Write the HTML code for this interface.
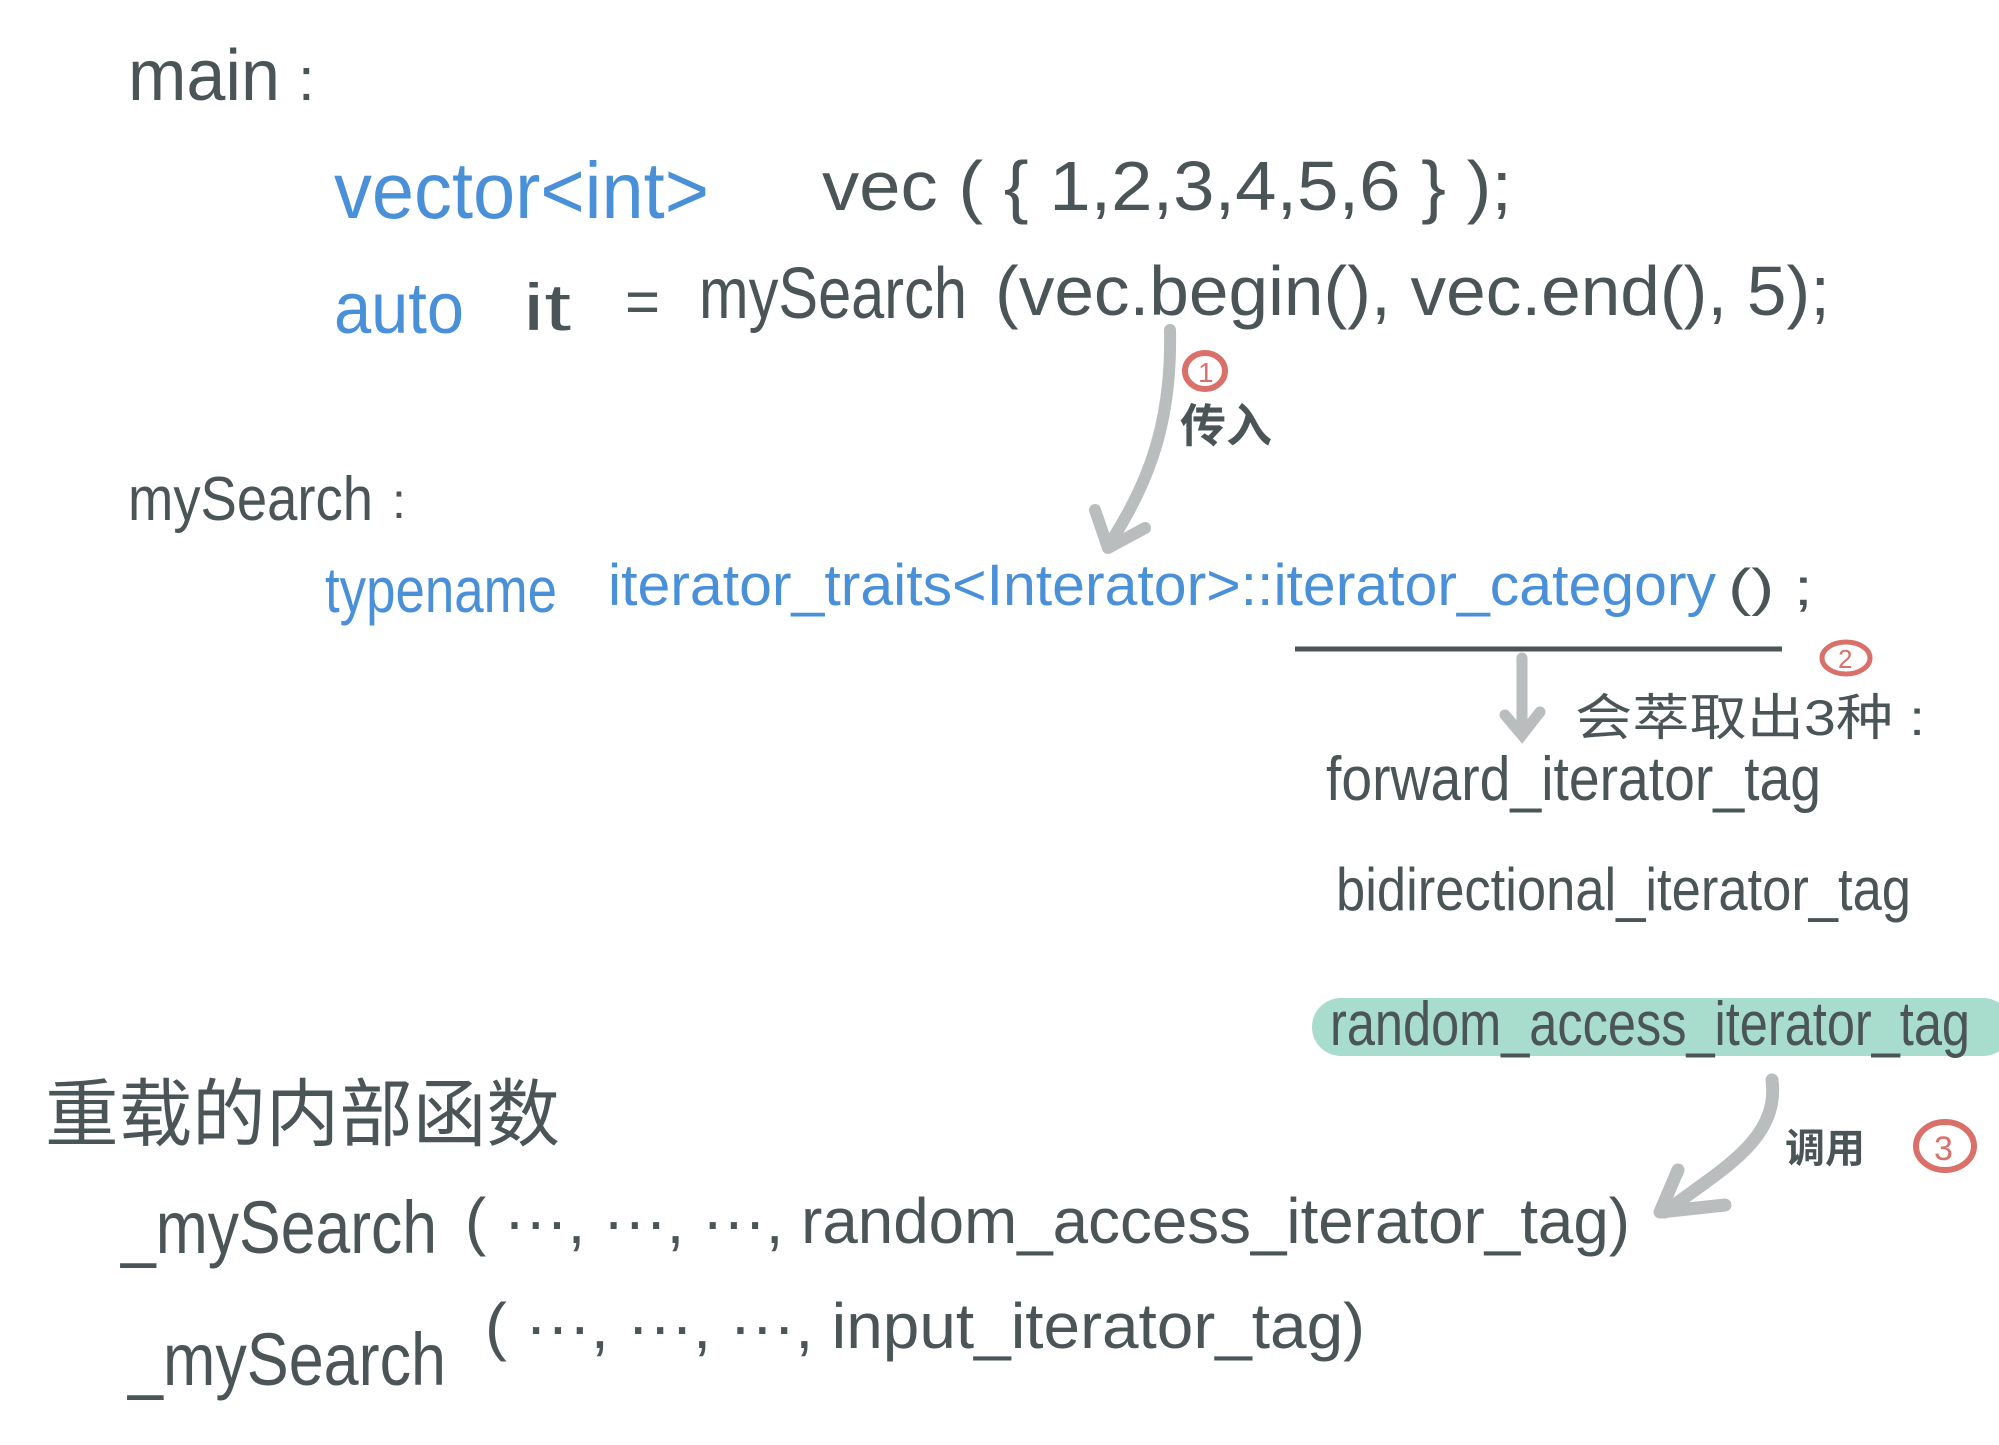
<!DOCTYPE html>
<html><head><meta charset="utf-8"><style>
html,body{margin:0;padding:0;background:#fff;width:1999px;height:1445px;overflow:hidden}
svg{display:block}
text{font-family:"Liberation Sans","Noto Sans CJK SC",sans-serif}
.d{fill:#4b5557}
.b{fill:#4a90d9}
</style></head><body>
<svg width="1999" height="1445" viewBox="0 0 1999 1445" xmlns="http://www.w3.org/2000/svg">
<text class="d" x="128" y="100" font-size="72" textLength="152" lengthAdjust="spacingAndGlyphs">main</text>
<text class="d" x="298" y="100" font-size="60">:</text>
<text class="b" x="334" y="218" font-size="80" textLength="375" lengthAdjust="spacingAndGlyphs">vector&lt;int&gt;</text>
<text class="d" x="822" y="210" font-size="70" textLength="690" lengthAdjust="spacingAndGlyphs">vec ( { 1,2,3,4,5,6 } );</text>
<text class="b" x="334" y="333" font-size="72" textLength="130" lengthAdjust="spacingAndGlyphs">auto</text>
<text class="d" x="523" y="330" font-size="66" textLength="48" lengthAdjust="spacingAndGlyphs">it</text>
<text class="d" x="625" y="322" font-size="60">=</text>
<text class="d" x="699" y="318" font-size="72" textLength="268" lengthAdjust="spacingAndGlyphs">mySearch</text>
<text class="d" x="995" y="315" font-size="70" textLength="835" lengthAdjust="spacingAndGlyphs">(vec.begin(), vec.end(), 5);</text>
<path d="M1170 330 C1172 420 1150 480 1112 540" stroke="#b9bdbe" stroke-width="12" fill="none" stroke-linecap="round"/>
<path d="M1095 510 L1108 548 L1145 528" stroke="#b9bdbe" stroke-width="12" fill="none" stroke-linecap="round" stroke-linejoin="round"/>
<ellipse cx="1205" cy="371" rx="20" ry="18" stroke="#d9706a" stroke-width="6" fill="none"/>
<text x="1198" y="382" font-size="28" fill="#d9706a">1</text>
<text class="d" x="1180" y="442" font-size="46" font-weight="bold">传入</text>
<text class="d" x="128" y="520" font-size="62" textLength="245" lengthAdjust="spacingAndGlyphs">mySearch</text>
<text class="d" x="392" y="518" font-size="50">:</text>
<text class="b" x="325" y="612" font-size="64" textLength="232" lengthAdjust="spacingAndGlyphs">typename</text>
<text class="b" x="608" y="605" font-size="58" textLength="1108" lengthAdjust="spacingAndGlyphs">iterator_traits&lt;Interator&gt;::iterator_category</text>
<text class="d" x="1728" y="605" font-size="52" textLength="85" lengthAdjust="spacingAndGlyphs">() ;</text>
<line x1="1295" y1="649" x2="1782" y2="649" stroke="#4b5557" stroke-width="5"/>
<path d="M1522 658 L1522 730 M1505 715 L1522 735 L1540 712" stroke="#b9bdbe" stroke-width="11" fill="none" stroke-linecap="round"/>
<ellipse cx="1846" cy="658" rx="24" ry="16" stroke="#d9706a" stroke-width="5" fill="none"/>
<text x="1838" y="668" font-size="26" fill="#d9706a">2</text>
<text class="d" x="1575" y="735" font-size="50" textLength="350" lengthAdjust="spacingAndGlyphs">会萃取出3种 :</text>
<text class="d" x="1326" y="800" font-size="62" textLength="495" lengthAdjust="spacingAndGlyphs">forward_iterator_tag</text>
<text class="d" x="1336" y="910" font-size="60" textLength="575" lengthAdjust="spacingAndGlyphs">bidirectional_iterator_tag</text>
<rect x="1312" y="998" width="700" height="58" rx="29" fill="#a8dccd"/>
<text class="d" x="1330" y="1045" font-size="62" textLength="640" lengthAdjust="spacingAndGlyphs">random_access_iterator_tag</text>
<path d="M1772 1080 C1780 1140 1720 1170 1665 1212" stroke="#b9bdbe" stroke-width="13" fill="none" stroke-linecap="round"/>
<path d="M1678 1170 L1660 1212 L1725 1205" stroke="#b9bdbe" stroke-width="13" fill="none" stroke-linecap="round" stroke-linejoin="round"/>
<text class="d" x="1785" y="1162" font-size="40" font-weight="bold">调用</text>
<ellipse cx="1945" cy="1146" rx="29" ry="24" stroke="#d9706a" stroke-width="6" fill="none"/>
<text x="1934" y="1160" font-size="34" fill="#d9706a">3</text>
<text class="d" x="45" y="1140" font-size="74" textLength="515" lengthAdjust="spacingAndGlyphs">重载的内部函数</text>
<text class="d" x="121" y="1253" font-size="74" textLength="316" lengthAdjust="spacingAndGlyphs">_mySearch</text>
<text class="d" x="465" y="1243" font-size="64" textLength="1165" lengthAdjust="spacingAndGlyphs">( ···, ···, ···, random_access_iterator_tag)</text>
<text class="d" x="128" y="1385" font-size="74" textLength="318" lengthAdjust="spacingAndGlyphs">_mySearch</text>
<text class="d" x="485" y="1348" font-size="64" textLength="880" lengthAdjust="spacingAndGlyphs">( ···, ···, ···, input_iterator_tag)</text>
</svg>
</body></html>
